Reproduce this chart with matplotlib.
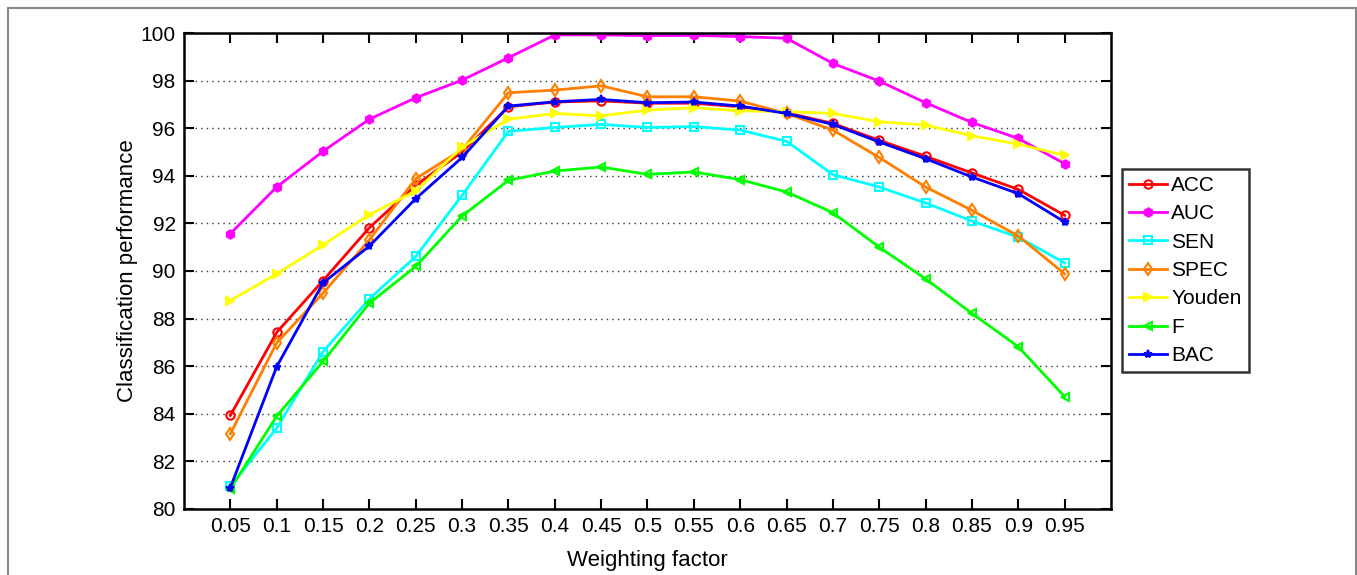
import numpy as np
import matplotlib
matplotlib.use("Agg")
import matplotlib.pyplot as plt
from matplotlib.patches import Rectangle

plt.rcParams['font.family'] = ['Liberation Sans', 'DejaVu Sans']

weights = [0.05, 0.1, 0.15, 0.2, 0.25, 0.3, 0.35, 0.4, 0.45, 0.5,
           0.55, 0.6, 0.65, 0.7, 0.75, 0.8, 0.85, 0.9, 0.95]
tick_labels = ["0.05", "0.1", "0.15", "0.2", "0.25", "0.3", "0.35", "0.4", "0.45", "0.5",
               "0.55", "0.6", "0.65", "0.7", "0.75", "0.8", "0.85", "0.9", "0.95"]

acc = [83.93, 87.42, 89.60, 91.82, 93.60, 95.00, 96.90, 97.10, 97.15, 97.05,
       97.05, 96.90, 96.65, 96.20, 95.49, 94.82, 94.12, 93.43, 92.34]
auc = [91.57, 93.53, 95.03, 96.38, 97.28, 98.02, 98.96, 99.92, 99.92, 99.89,
       99.90, 99.85, 99.78, 98.72, 97.98, 97.07, 96.24, 95.57, 94.51]
sen = [80.95, 83.40, 86.61, 88.83, 90.61, 93.18, 95.87, 96.03, 96.16, 96.03,
       96.07, 95.92, 95.45, 94.05, 93.53, 92.86, 92.10, 91.42, 90.34]
spec = [83.16, 86.98, 89.07, 91.31, 93.88, 95.10, 97.49, 97.60, 97.78, 97.32,
        97.32, 97.14, 96.62, 95.92, 94.77, 93.53, 92.55, 91.47, 89.88]
youden = [88.76, 89.88, 91.10, 92.37, 93.36, 95.20, 96.38, 96.62, 96.52, 96.76,
          96.86, 96.73, 96.70, 96.62, 96.27, 96.13, 95.68, 95.33, 94.86]
f_score = [80.85, 83.90, 86.20, 88.65, 90.19, 92.31, 93.81, 94.20, 94.37, 94.06,
           94.16, 93.84, 93.32, 92.45, 91.00, 89.67, 88.22, 86.82, 84.72]
bac = [80.90, 85.98, 89.50, 91.05, 93.04, 94.77, 96.93, 97.11, 97.21, 97.07,
       97.10, 96.93, 96.62, 96.16, 95.42, 94.72, 93.95, 93.25, 92.06]

series = [
    ("ACC", acc, "#ff0000", "o", "none"),
    ("AUC", auc, "#ff00ff", "h", "#ff00ff"),
    ("SEN", sen, "#00ffff", "s", "none"),
    ("SPEC", spec, "#ff7f00", "d", "none"),
    ("Youden", youden, "#ffff00", ">", "#ffff00"),
    ("F", f_score, "#00ff00", "<", "none"),
    ("BAC", bac, "#0000ff", "*", "#0000ff"),
]

fig = plt.figure(figsize=(13.57, 5.75), dpi=100)
ax = fig.add_axes([0.1356, 0.1148, 0.6831, 0.8278])

for name, vals, color, marker, face in series:
    ax.plot(weights, vals, color=color, marker=marker, markerfacecolor=face,
            markeredgecolor=color, markersize=6, markeredgewidth=1.5,
            linewidth=2, label=name)

ax.set_xlim(0, 1)
ax.set_ylim(80, 100)
ax.set_xticks(weights)
ax.set_xticklabels(tick_labels)
ax.set_yticks(np.arange(80, 101, 2))
ax.yaxis.grid(True, linestyle=(0, (1, 3)), color='#333333', linewidth=1)
ax.tick_params(direction='in', length=7, width=1.5, top=True, right=True,
               labelsize=15, pad=6)
for sp in ax.spines.values():
    sp.set_linewidth(1.8)

ax.set_xlabel("Weighting factor", fontsize=16, labelpad=10)
ax.set_ylabel("Classification performance", fontsize=16, labelpad=2)

leg = ax.legend(loc='upper left', bbox_to_anchor=(1.012, 0.715), fontsize=15,
                frameon=True, fancybox=False, edgecolor='black',
                handlelength=1.8, handletextpad=0.2, borderpad=0.35,
                labelspacing=0.45, borderaxespad=0)
leg.get_frame().set_linewidth(1.8)

# thin gray border around the figure image
fig.patches.append(Rectangle((8 / 1357, -0.05), (1356 - 8) / 1357, 1.05 - 8 / 575,
                             transform=fig.transFigure, fill=False,
                             edgecolor='#888888', linewidth=1.5))

fig.savefig("out.png", dpi=100)
